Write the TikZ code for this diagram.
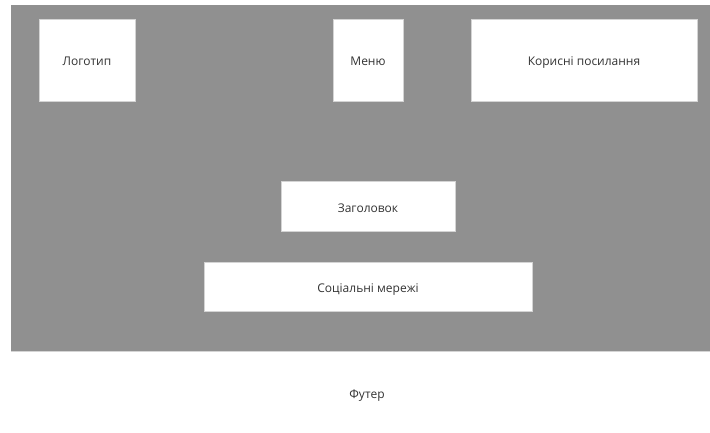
\documentclass[tikz,border=0pt]{standalone}
\usepackage{fontspec}
\setmainfont{Open Sans}
\definecolor{panelgray}{HTML}{909090}
\definecolor{boxedge}{HTML}{D4D4D4}
\definecolor{labeltext}{HTML}{333333}
\begin{document}
\begin{tikzpicture}[x=1pt,y=-1pt,
  block/.style={draw=boxedge,line width=0.8pt,fill=white},
  lbl/.style={font=\fontsize{12}{14}\selectfont,text=labeltext,
    text height=1.6ex,text depth=0.4ex}]
\useasboundingbox (0,0) rectangle (710,432);
\fill[white] (0,0) rectangle (710,432);
% header panel
\fill[panelgray] (11,5) rectangle (710,351);
\draw[boxedge,line width=0.8pt] (11,351.5) -- (710,351.5);
% blocks
\draw[block] (39,19) rectangle (135,101);
\node[lbl] (logo) at (87,62) {Логотип};
\draw[block] (333,19) rectangle (403,101);
\node[lbl] (menu) at (368,62) {Меню};
\draw[block] (471,19) rectangle (697,101);
\node[lbl] (links) at (584,62) {Корисні посилання};
\draw[block] (281,181) rectangle (455,231);
\node[lbl] (title) at (368,209) {Заголовок};
\draw[block] (204,262) rectangle (532,311);
\node[lbl] (social) at (368,289) {Соціальні мережі};
\node[lbl] (footer) at (367,395) {Футер};
\end{tikzpicture}
\end{document}
